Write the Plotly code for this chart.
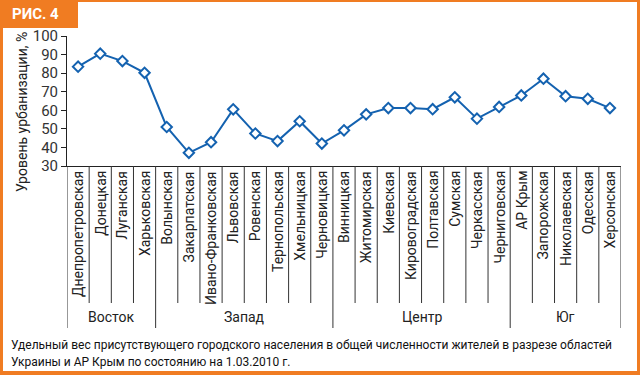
import plotly.graph_objects as go

regions = ["Днепропетровская", "Донецкая", "Луганская", "Харьковская",
           "Волынская", "Закарпатская", "Ивано-Франковская", "Львовская",
           "Ровенская", "Тернопольская", "Хмельницкая", "Черновицкая",
           "Винницкая", "Житомирская", "Киевская", "Кировоградская",
           "Полтавская", "Сумская", "Черкасская", "Черниговская",
           "АР Крым", "Запорожская", "Николаевская", "Одесская", "Херсонская"]
urban = [83.5, 90.5, 86.5, 80.2, 51.0, 37.1, 42.8, 60.5, 47.5, 43.4, 54.1, 42.1,
         49.2, 57.8, 61.2, 61.2, 60.6, 67.0, 55.5, 61.8, 68.0, 77.0, 67.6, 66.2, 61.2]
groups = ["Восток", "Запад", "Центр", "Юг"]
group_sizes = [4, 8, 8, 5]
yticks = [30, 40, 50, 60, 70, 80, 90, 100]
caption_lines = ["Удельный вес присутствующего городского населения в общей численности жителей в разрезе областей",
                 "Украины и АР Крым по состоянию на 1.03.2010 г."]

W, H = 640, 375
L, R, T, B = 67, 621, 36, 166
ORANGE = "#f07c22"
BLUE = "#1462b0"
FONT = "Roboto"

def py(p):  # pixel y -> paper y
    return (B - p) / (B - T)

def px(p):
    return (p - L) / (R - L)

fig = go.Figure()
fig.add_trace(go.Scatter(
    x=list(range(len(regions))), y=urban, mode="lines+markers",
    line=dict(color=BLUE, width=2),
    marker=dict(symbol="diamond", size=8, color="white",
                line=dict(color=BLUE, width=2)),
    cliponaxis=False, showlegend=False, hoverinfo="skip"))

shapes = []
annotations = []
for i, name in enumerate(regions):
    annotations.append(dict(x=i, y=py(169), xref="x", yref="paper", text=name,
                            textangle=-90, showarrow=False, xanchor="center",
                            yanchor="top", font=dict(family=FONT, size=14, color="#222")))
group_bounds = [-0.5]
for s in group_sizes:
    group_bounds.append(group_bounds[-1] + s)
for i in range(len(regions) + 1):
    xb = i - 0.5
    if xb in group_bounds:
        continue
    shapes.append(dict(type="line", xref="x", yref="paper", x0=xb, x1=xb,
                       y0=py(B), y1=py(303), line=dict(color="#333", width=1)))
for xb in group_bounds:
    shapes.append(dict(type="line", xref="x", yref="paper", x0=xb, x1=xb,
                       y0=py(B), y1=py(328), line=dict(color="#333", width=1)))
for g, a, b in zip(groups, group_bounds[:-1], group_bounds[1:]):
    annotations.append(dict(x=(a + b) / 2, y=py(317), xref="x", yref="paper", text=g,
                            showarrow=False, xanchor="center", yanchor="middle",
                            font=dict(family=FONT, size=14, color="#222")))

annotations.append(dict(x=px(22), y=py(112), xref="paper", yref="paper",
                        text="Уровень урбанизации, %", textangle=-90, showarrow=False,
                        xanchor="center", yanchor="middle",
                        font=dict(family=FONT, size=14, color="#222")))
for line_text, ly in zip(caption_lines, [345, 362]):
    annotations.append(dict(x=px(9), y=py(ly), xref="paper", yref="paper",
                            text=line_text, showarrow=False, xanchor="left",
                            yanchor="middle", align="left",
                            font=dict(family=FONT, size=12, color="#111")))
shapes.append(dict(type="rect", xref="paper", yref="paper", x0=px(0), x1=px(78),
                   y0=py(0), y1=py(28), fillcolor=ORANGE, line=dict(width=0), layer="below"))
annotations.append(dict(x=px(35), y=py(14), xref="paper", yref="paper", text="<b>РИС. 4</b>",
                        showarrow=False, xanchor="center", yanchor="middle",
                        font=dict(family=FONT, size=15, color="white")))
for (x0, x1, y0, y1) in [(0, 3, 0, H), (637, W, 0, H), (0, W, 0, 2), (0, W, 371, H)]:
    shapes.append(dict(type="rect", xref="paper", yref="paper", x0=px(x0), x1=px(x1),
                       y0=py(y0), y1=py(y1), fillcolor=ORANGE, line=dict(width=0)))

fig.update_layout(
    width=W, height=H, margin=dict(l=L, r=W - R, t=T, b=H - B),
    paper_bgcolor="white", plot_bgcolor="white",
    shapes=shapes, annotations=annotations,
    xaxis=dict(range=[-0.5, len(regions) - 0.5], showticklabels=False, ticks="",
               showgrid=False, zeroline=False, showline=True, linecolor="#222",
               linewidth=1, tickvals=[]),
    yaxis=dict(range=[30, 100], tickvals=yticks, showgrid=False, zeroline=False,
               showline=True, linecolor="#222", linewidth=1, ticks="outside",
               ticklen=5, tickcolor="#222",
               tickfont=dict(family=FONT, size=15, color="#333")),
)
fig.write_html("out.html", config={"displayModeBar": False, "staticPlot": True},
               post_script="document.body.style.margin='0';document.body.style.overflow='hidden';")
